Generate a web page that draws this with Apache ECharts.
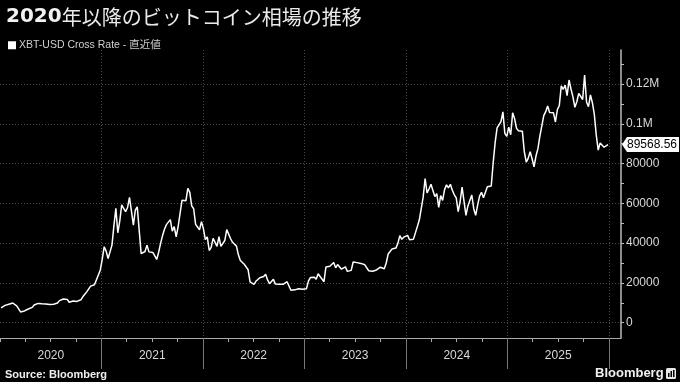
<!DOCTYPE html>
<html><head><meta charset="utf-8">
<script src="https://cdn.jsdelivr.net/npm/echarts@6/dist/echarts.min.js"></script>
<style>html,body{margin:0;padding:0;background:#000;}#c{width:680px;height:382px;}</style>
</head><body><div id="c"></div>
<script>
const titleYear = '2020';
const titleRest = '年以降のビットコイン相場の推移';
const seriesName = 'XBT-USD Cross Rate - 直近値';
const sourceText = 'Source: Bloomberg';
const logoText = 'Bloomberg';

// weekly closes starting 2020-01-05
const startDate = '2020-01-05';
const stepDays = 7;
const prices2020 = [7400,8100,8700,8600,9300,10100,9900,9700,8500,8000,5400,5800,5900,6800,6900,7100,7700,8900,8700,9700,8700,9500,9700,9400,9300,9100,9100,9300,9200,9900,11100,11700,11900,11700,11700,10300,10300,10900,10800,10700,11400,11500,13000,13700,15500,16000,18400,18200,19100,19200,24000,26500];
const prices2021 = [32000,38200,36000,32300,33100,39000,48800,57500,45200,51000,59200,57500,55800,57900,63000,56200,49000,56600,58200,46400,34700,35600,35800,39000,35600,34700,35300,34300,31800,35400,39900,43800,47000,49300,48900,51800,46000,48300,43200,48200,54900,61500,60900,61300,67500,65500,58700,57300,49400,50100,46700,50800];
const prices2022 = [47300,41800,43100,36300,37900,42400,42200,38400,43200,38400,37800,41300,46800,46400,42200,40400,39500,38500,34100,31300,30300,29400,29900,26600,20500,21000,19300,20800,20800,22600,23300,23200,24300,21500,19600,19800,21800,19400,18800,19300,19400,19300,19600,20600,20900,16300,16300,16500,17100,17100,16800,16800];
const prices2023 = [16600,17100,20900,22700,23700,22900,21800,24600,23200,22400,20600,28000,27900,28400,28300,30300,27600,29200,28400,26900,26800,28100,25800,25900,26300,30500,30600,30200,30200,29800,29200,29100,29400,26100,26000,25900,25800,26500,26300,27900,27900,27100,30000,34500,35000,37100,37400,37500,39900,43800,41900,43000,42300];
const prices2024 = [43900,41700,41600,42000,43000,48300,51600,51700,63100,72500,65300,67200,69600,69400,63400,64900,58000,63900,61500,66900,69300,67800,69600,66600,64300,62700,55800,60800,68200,68200,54000,58700,59400,64200,57300,54000,59100,63600,65600,62800,62900,68400,67900,68700,80400,90500,97900,97300,101100,106000,95100,93700];
const prices2025 = [98300,94500,105500,102600,97700,96500,96100,96300,86000,80700,82600,86000,82400,78400,83800,87500,93800,94300,104100,106100,109000,105700,105700,105500,100900,107100,109200,119100,117300,119400,114200,122000,117500,113500,108300,111100,115300,115300,112200,124500,111000,108600,114500,110600,104700,94300,86800,90400,89400,88200,88500,89568.56];

const yLabelValues = [0,20000,40000,60000,80000,100000,120000];
const yTickValues = [0,10000,20000,30000,40000,50000,60000,70000,80000,90000,100000,110000,120000,130000];
const yearLabels = [2020,2021,2022,2023,2024,2025];
const yearLines = [2021,2022,2023,2024,2025,2026];
const quarterYears = [2020,2021,2022,2023,2024,2025];
const yMin = -7700, yMax = 137100;
const xMinDate = '2020-01-01', xMaxDate = '2026-02-13';

const prices = [].concat(prices2020,prices2021,prices2022,prices2023,prices2024,prices2025);
const t0 = Date.parse(startDate + 'T00:00:00Z');
const day = 86400000;
const seriesData = prices.map((v,i)=>[t0 + i*stepDays*day, v]);
const lastValue = prices[prices.length-1];
const xMin = Date.parse(xMinDate+'T00:00:00Z');
const xMax = Date.parse(xMaxDate+'T00:00:00Z');
const quarterTicks = [];
quarterYears.forEach(y=>{[0,3,6,9].forEach(m=>quarterTicks.push(Date.UTC(y,m,1)));});
quarterTicks.push(Date.UTC(2026,0,1));
const yearLabelPos = yearLabels.map(y=>Date.UTC(y,6,2));
const yearLinePos = yearLines.map(y=>Date.UTC(y,0,1));

const chart = echarts.init(document.getElementById('c'), null, {renderer:'canvas'});
const grid = {left:0, right:59, top:50, bottom:44, containLabel:false};
const dotted = {color:'#4a4a4a', width:1, type:[1,2]};
chart.setOption({
  backgroundColor:'#000',
  animation:false,
  title:{
    left:1, top:2,
    text:'{a|'+titleYear+'}{b|'+titleRest+'}',
    textStyle:{rich:{
      a:{fontFamily:'DejaVu Sans', fontWeight:'bold', fontSize:20, color:'#f2f2f2'},
      b:{fontFamily:'Noto Sans CJK JP', fontWeight:'normal', fontSize:20, color:'#eaeaea'}
    }}
  },
  legend:{
    left:3, top:35, itemWidth:8, itemHeight:8, icon:'rect',
    textStyle:{color:'#cfcfcf', fontSize:10.5, fontFamily:'Liberation Sans, Noto Sans CJK JP', padding:[0,0,0,-2]},
    data:[{name:seriesName}]
  },
  grid:grid,
  xAxis:[{
    type:'value', min:xMin, max:xMax, position:'bottom',
    axisLine:{show:true, onZero:false, lineStyle:{color:'#aaaaaa', width:1}},
    axisTick:{show:true, length:4, customValues:quarterTicks, lineStyle:{color:'#aaaaaa'}},
    axisLabel:{show:true, customValues:yearLabelPos, margin:12, color:'#d8d8d8', fontSize:12, fontFamily:'Liberation Sans',
      formatter:v=>String(new Date(v).getUTCFullYear())},
    splitLine:{show:false}
  },{
    type:'value', min:xMin, max:xMax, position:'bottom',
    axisLine:{show:false, onZero:false},
    axisTick:{show:true, length:31, customValues:yearLinePos, lineStyle:{color:'#777777'}},
    axisLabel:{show:false},
    splitLine:{show:true, lineStyle:dotted}
  }],
  yAxis:[{
    type:'value', min:yMin, max:yMax, position:'right',
    axisLine:{show:true, onZero:false, lineStyle:{color:'#bbbbbb', width:1.5}},
    axisTick:{show:true, length:3, customValues:yTickValues, lineStyle:{color:'#bbbbbb'}},
    axisLabel:{show:true, customValues:yLabelValues, margin:5, color:'#d8d8d8', fontSize:12, fontFamily:'Liberation Sans',
      formatter:v=> v>=100000 ? (v/1000000)+'M' : String(v)},
    splitLine:{show:false}
  },{
    type:'value', min:yMin, max:yMax, position:'right',
    axisLine:{show:false, onZero:false},
    axisTick:{show:false, customValues:yLabelValues},
    axisLabel:{show:false},
    splitLine:{show:true, lineStyle:dotted}
  }],
  series:[{
    name:seriesName, type:'line', xAxisIndex:0, yAxisIndex:0,
    data:seriesData, showSymbol:false, symbol:'none',
    lineStyle:{color:'#ffffff', width:1.5},
    itemStyle:{color:'#ffffff'},
    markPoint:{
      symbol:'path://M0,7.5L5,0L57,0L57,15L5,15Z',
      symbolSize:[57,15], symbolKeepAspect:false, symbolOffset:[29.5,0],
      itemStyle:{color:'#ffffff'},
      label:{show:true, position:'inside', offset:[1.5,0], color:'#000', fontSize:12, fontFamily:'Liberation Sans',
        formatter:()=>lastValue.toFixed(2)},
      data:[{coord:[xMax, lastValue], value:lastValue}]
    }
  }],
  graphic:[
    {type:'text', left:5, top:369, style:{text:sourceText, fill:'#f0f0f0', font:'bold 11px "Liberation Sans"'}},
    {type:'text', left:595, top:367, style:{text:logoText, fill:'#f0f0f0', font:'bold 13px "Liberation Sans"'}},
    {type:'rect', left:666, top:368, shape:{width:10, height:11, r:1.5}, style:{fill:'#e8e8e8'}},
    {type:'rect', left:668, top:373, shape:{width:1.5, height:4}, style:{fill:'#000'}},
    {type:'rect', left:670.5, top:371, shape:{width:1.5, height:6}, style:{fill:'#000'}},
    {type:'rect', left:673, top:370, shape:{width:1.5, height:7}, style:{fill:'#000'}}
  ]
});
</script></body></html>
